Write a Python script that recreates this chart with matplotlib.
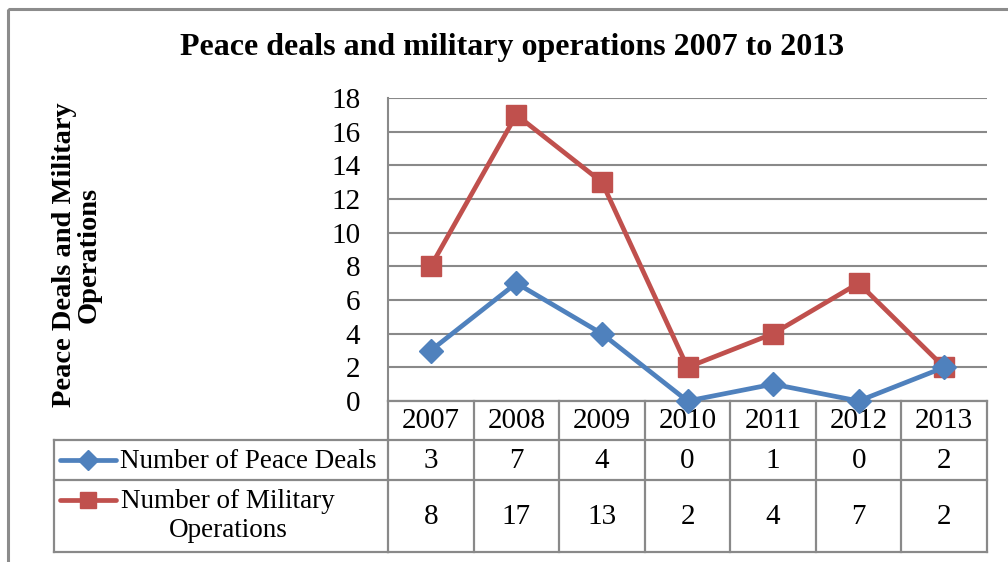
import matplotlib
matplotlib.use("Agg")
import matplotlib.pyplot as plt
from matplotlib.transforms import blended_transform_factory
from matplotlib.lines import Line2D
from matplotlib.patches import Rectangle

years = ["2007", "2008", "2009", "2010", "2011", "2012", "2013"]
peace_deals = [3, 7, 4, 0, 1, 0, 2]
military_ops = [8, 17, 13, 2, 4, 7, 2]
series_names = ["Number of Peace Deals", "Number of Military\nOperations"]
title = "Peace deals and military operations 2007 to 2013"
ylabel = "Peace Deals and Military\nOperations"
yticks = list(range(0, 19, 2))

BLUE = "#4F81BD"
RED = "#C0504D"
GRID = "#898989"
SERIF = "Liberation Serif"
FS = 20

W, H = 1008, 562
fig = plt.figure(figsize=(W / 100, H / 100), dpi=100)

# pixel-space overlay for frame and data table
ov = fig.add_axes([0, 0, 1, 1], zorder=0)
ov.set_xlim(0, W)
ov.set_ylim(H, 0)
ov.axis("off")

# plot area (pixels): left 388, right 987, top 98, bottom 401
L, R, T, B = 388, 987, 98, 401
ax = fig.add_axes([L / W, (H - B) / H, (R - L) / W, (B - T) / H], zorder=2)
ax.patch.set_alpha(0)
x = list(range(len(years)))
ax.plot(x, peace_deals, color=BLUE, lw=3.4, marker="D", ms=12,
        markeredgecolor=BLUE, solid_joinstyle="miter", zorder=4, clip_on=False)
ax.plot(x, military_ops, color=RED, lw=3.4, marker="s", ms=14,
        markeredgecolor=RED, solid_joinstyle="miter", zorder=3, clip_on=False)
ax.set_xlim(-0.5, len(years) - 0.5)
ax.set_ylim(0, 18)
ax.set_yticks(yticks)
ax.set_xticks([])
ax.yaxis.grid(True, color=GRID, lw=1.5)
ax.set_axisbelow(True)
for s in ["top", "right", "bottom"]:
    ax.spines[s].set_visible(False)
ax.spines["left"].set_color(GRID)
ax.spines["left"].set_linewidth(1.5)
ax.tick_params(axis="y", length=0, pad=20, labelsize=FS + 1)
for lab in ax.get_yticklabels():
    lab.set_fontfamily(SERIF)

# outer chart frame
ov.add_patch(Rectangle((8, 9), 1100, 700, fill=False, ec="#8c8c8c", lw=2.2))

fig.text(512 / W, 1 - 48 / H, title, ha="center", va="center",
         fontsize=23, fontweight="bold", family=SERIF)
fig.text(77 / W, 1 - 255 / H, ylabel, ha="center", va="center", rotation=90,
         fontsize=20.5, fontweight="bold", family=SERIF, linespacing=1.0)

# data table
tr = blended_transform_factory(ax.transData, ov.transData)
rows_y = [401, 440, 480, 552]
n = len(years)
lw_t = 1.6
# horizontal lines over the category columns
for yy in rows_y:
    ov.add_line(Line2D([-0.5, n - 0.5], [yy, yy], transform=tr, color=GRID, lw=lw_t))
# legend column horizontals
for yy in rows_y[1:]:
    ov.add_line(Line2D([54, L], [yy, yy], color=GRID, lw=lw_t))
# verticals
for i in range(n + 1):
    ov.add_line(Line2D([i - 0.5, i - 0.5], [rows_y[0], rows_y[-1]], transform=tr,
                       color=GRID, lw=lw_t))
ov.add_line(Line2D([54, 54], [rows_y[1], rows_y[-1]], color=GRID, lw=lw_t))

for i, yr in enumerate(years):
    ov.text(i, (rows_y[0] + rows_y[1]) / 2 + 1, yr, transform=tr, ha="center",
            va="center", fontsize=FS + 1, family=SERIF)
    ov.text(i, (rows_y[1] + rows_y[2]) / 2 + 1, str(peace_deals[i]), transform=tr,
            ha="center", va="center", fontsize=FS + 1, family=SERIF)
    ov.text(i, (rows_y[2] + rows_y[3]) / 2 + 1, str(military_ops[i]), transform=tr,
            ha="center", va="center", fontsize=FS + 1, family=SERIF)

# legend keys in the table
ov.add_line(Line2D([60, 116], [460, 460], color=BLUE, lw=3.4, solid_capstyle="round"))
ov.add_line(Line2D([88], [460], color=BLUE, marker="D", ms=10, lw=0))
ov.add_line(Line2D([60, 116], [500, 500], color=RED, lw=3.4, solid_capstyle="round"))
ov.add_line(Line2D([88], [500], color=RED, marker="s", ms=11, lw=0))
ov.text(120, 461, series_names[0], ha="left", va="center", fontsize=FS - 0.5,
        family=SERIF)
ov.text(228, 516, series_names[1], ha="center", va="center", fontsize=FS - 0.5,
        family=SERIF, linespacing=1.2, multialignment="center")

fig.savefig("out.png", dpi=100, facecolor="white")
